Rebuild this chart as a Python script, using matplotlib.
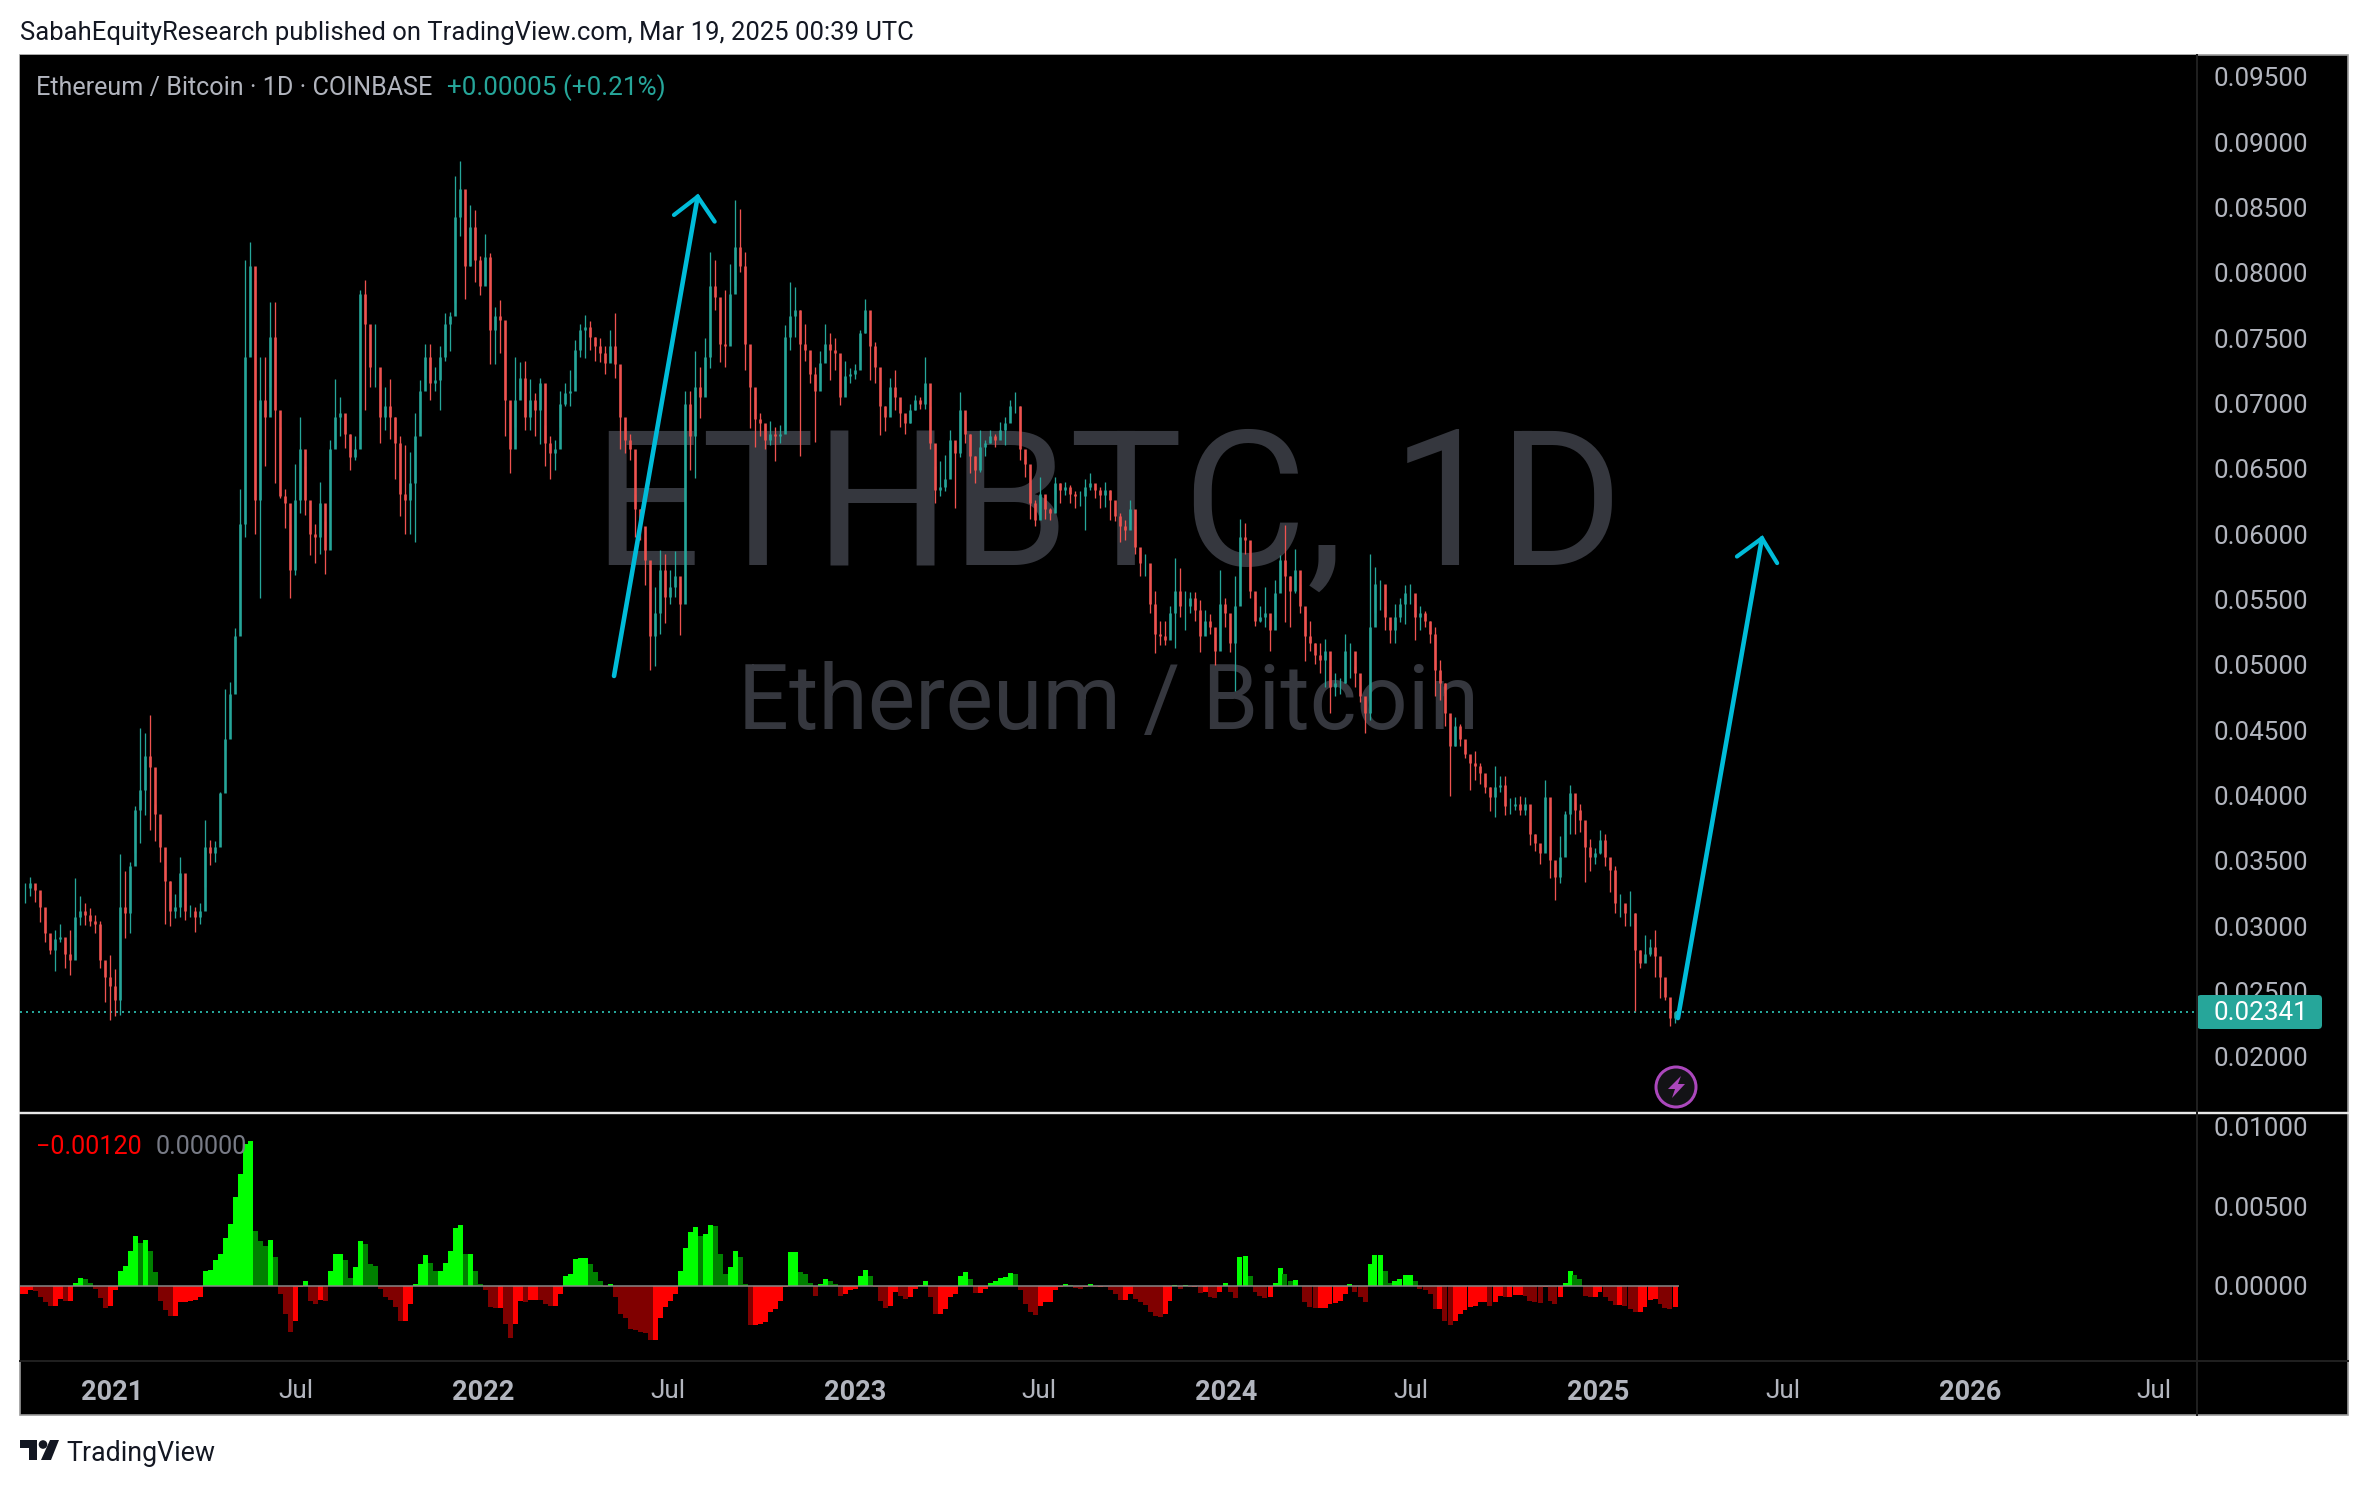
import datetime as dt
import numpy as np
import matplotlib
matplotlib.use("Agg")
import matplotlib.pyplot as plt
from matplotlib.patches import Rectangle, Circle, Polygon, FancyBboxPatch

W, H = 2368, 1486
plt.rcParams['font.family'] = ['Roboto', 'DejaVu Sans']

# ---- values (prices and momentum in units of 0.001) ----
close = [
 32.9,33.3,32.8,31.5,29.5,28.2,29.0,29.2,27.9,27.4,30.7,31.2,30.9,30.4,30.2,27.4,26.1,25.4,24.4,31.5,
 31.0,34.6,38.9,40.4,43.0,42.2,38.6,36.1,33.5,31.2,31.5,34.1,31.2,31.2,30.7,31.2,36.1,35.6,36.1,40.2,
 44.3,47.8,52.2,
 60.8,73.6,80.5,62.6,70.3,69.0,75.1,69.5,62.9,62.4,57.3,62.6,66.5,62.6,60.0,59.8,62.4,58.8,66.5,69.0,
 69.3,67.7,65.9,66.5,78.4,76.1,72.8,72.8,69.0,69.8,69.0,67.0,63.1,62.6,63.9,67.5,71.0,73.6,71.6,71.8,
 73.6,76.1,76.7,84.3,86.4,80.5,83.5,81.0,79.0,81.2,75.6,76.7,76.4,70.3,66.5,70.3,72.0,69.0,70.3,69.5,
 71.6,67.0,66.2,66.5,70.0,70.8,71.0,74.1,75.6,75.9,75.1,74.4,73.9,73.1,74.4,73.0,69.0,67.2,66.5,61.9,
 60.6,58.0,
 52.2,54.0,57.3,55.2,56.0,56.8,54.7,70.0,67.5,71.3,70.5,73.6,79.0,78.2,74.6,74.4,78.4,82.0,80.5,74.6,
 71.3,68.8,68.5,67.2,67.7,67.5,67.7,75.1,76.7,77.2,74.6,74.1,72.3,71.0,73.1,74.6,74.1,73.9,70.5,72.1,
 72.3,72.6,75.4,77.2,74.4,72.8,69.8,69.0,71.3,70.5,69.3,68.5,69.5,70.3,70.0,71.6,67.0,63.4,63.6,64.2,
 67.2,66.2,69.5,67.7,66.0,64.9,66.7,67.0,67.5,67.2,68.0,68.5,69.8,69.8,66.5,65.4,62.4,61.1,63.1,61.9,
 61.6,63.9,63.4,63.6,63.1,62.9,62.9,63.6,63.9,63.4,63.0,
 63.4,62.6,61.4,60.6,60.3,61.9,59.0,57.8,57.8,54.7,52.4,52.2,51.9,54.0,55.7,54.5,54.5,55.1,54.2,52.2,
 53.4,52.9,51.1,54.7,54.0,51.7,54.5,59.8,59.6,55.7,53.4,53.7,54.0,52.7,55.5,58.0,56.8,55.7,57.3,54.5,
 52.2,51.7,50.8,50.4,51.1,48.3,48.6,48.6,51.1,51.1,49.4,47.6,46.3,52.9,56.2,56.2,53.7,52.7,53.7,54.7,
 55.5,55.5,53.7,54.0,53.4,52.4,49.6,48.6,46.3,43.8,45.3,44.3,43.2,42.5,42.3,41.7,40.7,
 39.9,40.7,40.8,39.2,39.2,39.4,38.9,39.4,37.1,36.4,35.6,39.9,35.1,33.8,35.3,38.6,40.2,38.9,38.1,36.1,
 35.3,35.6,36.6,35.3,34.3,31.8,31.8,31.0,31.0,28.2,27.2,27.9,28.4,27.7,26.1,24.6,23.0,23.41]
high = [
 33.3,33.75,33.0,32.3,30.4,29.0,29.7,30.2,28.8,29.7,33.7,32.3,31.8,31.4,30.9,30.4,27.3,27.8,26.7,35.5,
 34.2,34.9,39.2,45.2,44.8,46.2,39.4,37.8,34.6,33.5,32.5,35.3,32.7,31.6,31.5,31.8,38.1,36.6,36.5,40.3,
 48.2,48.7,52.8,
 63.5,81.0,82.4,79.5,73.6,73.6,77.8,77.8,68.2,63.5,60.8,65.4,69.0,65.2,62.0,60.8,64.0,61.0,67.2,71.9,
 70.5,68.8,67.7,67.5,78.7,79.5,75.4,76.1,71.6,71.3,71.9,69.0,67.5,66.8,66.3,69.3,71.8,74.6,74.6,72.8,
 74.4,76.9,77.0,87.4,88.6,84.3,85.2,84.8,81.3,83.0,81.5,77.4,77.9,74.1,70.0,73.6,73.2,73.3,71.9,70.8,
 72.0,68.4,67.5,67.2,71.0,71.6,72.6,74.9,76.1,76.8,76.3,75.1,75.0,74.4,75.6,76.9,72.8,68.2,67.7,63.1,
 61.9,59.8,
 55.7,56.0,58.8,58.5,57.3,58.7,56.3,71.0,71.0,74.0,72.8,75.0,81.6,81.0,77.7,78.7,80.7,85.6,84.9,81.6,
 71.8,70.5,69.3,68.4,68.7,68.2,68.4,76.0,79.3,78.9,77.2,76.1,73.3,72.8,74.0,76.1,75.4,75.0,72.8,73.3,
 72.7,73.0,75.6,78.0,75.6,74.7,71.8,69.8,72.0,72.6,70.3,69.1,70.0,70.7,70.5,73.6,69.8,65.2,65.6,66.1,
 68.0,66.8,70.9,69.0,67.7,66.0,68.0,67.2,68.0,67.7,68.6,69.0,70.3,70.9,69.8,66.0,63.8,62.6,64.4,62.9,
 62.0,64.4,63.9,64.0,63.8,63.3,63.3,64.2,64.7,63.6,63.6,
 64.0,63.4,61.9,61.6,61.1,62.6,60.6,58.8,58.5,56.8,55.7,53.4,53.4,54.5,58.2,57.4,55.7,55.6,55.6,55.0,
 54.2,53.9,52.4,57.3,55.1,52.9,56.8,61.2,60.9,58.5,54.8,54.5,56.0,53.4,56.5,58.4,60.7,56.8,58.9,56.2,
 54.2,53.4,51.7,51.7,52.0,49.9,49.4,49.0,52.4,51.7,49.9,48.5,47.3,58.5,57.5,56.5,54.5,53.4,54.7,55.1,
 56.1,56.2,54.7,54.5,54.1,53.4,52.9,50.4,48.6,46.1,46.0,45.5,44.0,43.0,43.4,42.5,41.5,
 40.7,42.3,41.5,41.5,39.8,39.9,40.0,39.9,38.0,37.1,36.1,41.2,39.2,34.8,36.9,38.8,40.8,39.5,39.4,37.4,
 36.7,36.0,37.4,37.1,34.9,34.6,32.5,31.6,32.7,31.0,28.2,29.3,29.0,29.7,27.3,25.9,23.9,23.5]
low = [
 31.8,32.3,31.9,30.3,28.8,27.9,26.6,28.8,26.8,26.3,29.2,30.1,30.1,30.0,29.5,26.8,24.2,22.8,23.1,23.2,
 29.1,29.5,35.6,36.4,38.5,37.4,36.5,34.9,30.2,30.0,30.6,30.7,30.5,30.7,29.6,30.2,33.0,34.7,34.9,37.0,
 43.5,46.6,48.7,
 52.7,59.8,74.1,60.0,55.1,65.2,71.3,63.9,62.8,60.5,55.1,56.9,61.6,61.5,58.4,57.8,58.5,57.0,62.6,66.7,
 67.5,66.6,64.9,65.7,69.5,69.5,71.3,71.3,67.0,68.0,67.3,64.2,61.4,60.0,60.0,59.4,69.3,72.0,70.3,71.0,
 69.5,73.3,74.0,77.7,82.8,78.0,80.5,79.3,78.3,79.2,73.0,73.0,73.9,67.5,64.7,68.2,71.0,68.0,68.0,67.5,
 66.9,65.2,64.2,64.9,68.2,69.8,69.8,72.0,73.6,73.5,74.1,73.3,73.2,72.3,73.2,72.0,66.5,66.2,65.7,59.8,
 59.6,56.1,
 49.6,49.9,52.4,53.2,54.7,55.2,52.3,58.0,64.9,64.3,68.9,71.0,72.7,77.2,73.2,72.8,76.4,79.0,80.1,72.6,
 68.1,66.7,67.5,66.5,66.8,65.6,67.0,68.1,74.1,75.1,66.0,73.3,71.6,67.1,71.6,73.3,71.8,72.6,69.9,71.2,
 71.6,71.9,73.3,75.4,71.8,71.6,67.6,67.9,70.0,69.5,68.2,67.7,68.5,69.5,69.6,69.6,66.5,62.4,62.9,63.3,
 64.9,62.0,65.9,67.0,64.7,63.9,64.8,66.0,67.0,66.7,67.5,66.8,69.1,69.3,65.7,64.4,61.2,60.6,62.0,61.2,
 61.1,63.1,62.4,63.0,62.4,62.0,62.2,60.3,63.4,62.8,62.0,
 62.1,61.1,61.0,59.4,59.6,60.8,58.5,56.8,56.8,54.0,50.9,51.5,51.5,52.4,51.3,53.7,52.7,54.0,53.4,51.0,
 52.7,52.4,50.0,52.2,52.9,51.0,48.0,55.7,58.5,55.1,53.0,53.3,52.9,51.1,53.7,56.5,53.3,52.9,55.5,54.0,
 50.3,51.1,50.1,49.4,48.3,46.3,47.6,47.8,48.6,49.0,48.3,47.2,44.8,45.8,54.0,54.2,52.7,51.7,51.7,53.3,
 53.1,54.7,51.9,52.7,52.9,51.7,47.6,47.3,45.3,40.0,43.8,43.8,42.9,40.4,41.2,40.9,40.2,
 38.8,38.4,40.3,38.5,38.6,38.9,38.5,38.5,36.2,35.8,34.8,35.8,33.7,32.0,33.3,36.6,37.1,37.1,37.2,33.4,
 34.2,34.8,35.5,34.6,32.6,31.0,30.7,30.0,30.0,23.5,26.8,27.4,27.7,26.1,24.5,24.4,22.4,22.6]
momentum = [
 -.5,-.5,-.3,-.36,-.7,-1.05,-1.3,-1.3,-.85,-.95,-.95,.2,.5,.4,.15,-.2,-.75,-1.4,-1.25,-.3,
 .9,1.25,2.2,3.1,2.7,2.9,2.2,.85,-.95,-1.5,-1.9,-1.9,-1.05,-1.0,-.95,-.88,-.73,.95,1.0,1.6,
 2.0,3.0,3.9,5.55,7.0,8.9,9.1,3.45,2.8,2.5,2.9,1.8,-.5,-1.8,-2.9,-2.2,-.1,.3,-.95,-1.15,
 -.88,-.95,.95,2.0,2.0,1.6,.5,1.15,2.8,2.6,1.35,1.25,-.2,-.7,-.88,-1.35,-2.2,-2.2,-1.15,.1,
 1.35,1.9,1.45,.95,.95,1.45,2.2,3.65,3.8,2.0,2.0,.95,.1,-.3,-1.35,-1.4,-1.4,-2.4,-3.3,-2.4,
 -.95,-1.0,-.9,-.88,-.9,-1.15,-1.3,-1.3,-.5,.63,.73,1.7,1.74,1.74,1.36,.84,.3,-.06,.1,-.7,
 -1.8,-2.0,-2.7,-2.8,-2.9,-3.0,-3.4,-3.4,-2.0,-1.36,-.95,-.5,.95,2.4,3.35,3.67,3.14,3.25,3.8,3.77,
 2.0,.73,1.15,2.2,1.8,.1,-2.5,-2.5,-2.4,-2.3,-1.68,-1.47,-.95,-.1,2.1,2.1,.84,.73,.2,-.63,
 .1,.42,.3,.1,-.63,-.5,-.3,-.2,.63,1.0,.63,-.1,-.95,-1.4,-1.26,-.4,
 -.63,-.84,-.73,-.2,.06,.3,-.73,-1.8,-1.8,-1.47,-.73,-.5,.63,.84,.42,-.48,-.48,-.2,.15,.3,
 .48,.52,.78,.73,-.3,-1.15,-1.68,-1.82,-1.26,-1.05,-1.0,-.3,-.06,.1,.02,-.15,-.2,-.1,.1,-.06,
 -.06,-.1,-.27,-.5,-.88,-.88,-.5,-.84,-1.05,-1.2,-1.68,-1.88,-1.95,-1.8,-.95,.06,-.2,.04,-.1,-.1,
 -.46,-.42,-.73,-.78,-.42,.15,-.42,-.78,1.82,1.87,.63,-.42,-.67,-.78,-.73,.2,1.1,.73,.3,.36,
 0,-1.05,-1.36,-1.4,-1.4,-1.4,-1.15,-1.1,-.95,-.5,.1,-.42,-.73,-1.0,1.36,1.95,1.95,.94,.2,.3,
 .42,.69,.69,.3,-.2,-.3,-.5,-1.47,-1.47,-2.2,-2.5,-2.2,-1.8,-1.53,-1.36,-1.26,-1.05,-1.05,-1.3,-1.05,
 -.63,-.73,-.7,-.57,-.57,-.63,-.95,-1.05,-1.1,-.06,-.95,-1.15,-.73,.2,.9,.69,.42,-.63,-.73,-.73,
 -.42,-.73,-.95,-1.2,-1.2,-1.3,-1.47,-1.68,-1.68,-1.36,-.9,-.84,-1.15,-1.4,-1.47,-1.36]
price_ticks = [0.020,0.025,0.030,0.035,0.040,0.045,0.050,0.055,0.060,0.065,0.070,0.075,0.080,0.085,0.090,0.095]
osc_ticks = [0.0, 0.005, 0.01]
time_labels = ['2021','Jul','2022','Jul','2023','Jul','2024','Jul','2025','Jul','2026','Jul']
time_dates = [dt.date(2021,1,1),dt.date(2021,7,1),dt.date(2022,1,1),dt.date(2022,7,1),dt.date(2023,1,1),
              dt.date(2023,7,1),dt.date(2024,1,1),dt.date(2024,7,1),dt.date(2025,1,1),dt.date(2025,7,1),
              dt.date(2026,1,1),dt.date(2026,7,1)]
last_price = 0.02341
# drawn arrows: (day since 2021-01-01, price) for start, tip, head-left, head-right
arrow_up_2022 = [(493.4,0.04916),(575.6,0.08584),(552.3,0.08444),(592.3,0.08393)]
arrow_up_2025 = [(1539.0,0.02298),(1621.6,0.0597),(1597.0,0.0583),(1636.5,0.0578)]

# ---- layout ----
UP, DOWN = '#26a69a', '#ef5350'
GREY = '#b2b5be'
PX = 72/100
SCALE_X = 1.0175            # pixels per day
STEP = 5/SCALE_X            # days between the readings
X0 = 112                    # pixel of 2021-01-01
L, R, T, SEP, B, EDGE, BOT = 20, 2197, 55, 1112, 1360, 2348, 1415

def day(px):
    return (px-X0)/SCALE_X

fig = plt.figure(figsize=(W/100, H/100), dpi=100, facecolor='white')
fig.add_artist(Rectangle((L/W, 1-BOT/H), (EDGE-L)/W, (BOT-T)/H, transform=fig.transFigure,
                         facecolor='black', edgecolor='#9a9a9a', lw=1.2, zorder=-1))
ax = fig.add_axes([L/W, 1-SEP/H, (R-L)/W, (SEP-T)/H], facecolor='black')
ax2 = fig.add_axes([L/W, 1-B/H, (R-L)/W, (B-SEP-2)/H], facecolor='black')
for a in (ax, ax2):
    a.set_xlim(day(L), day(R))
    for s in a.spines.values():
        s.set_visible(False)
    a.yaxis.tick_right()
ax.set_ylim(0.02+(1057-SEP)/13067, 0.02+(1057-T)/13067)
ax2.set_ylim((1285.7-B)/15900, (1285.7-SEP-2)/15900)

# watermark
ax.text(day(1108), 0.02+(1057-513)/13067, 'ETHBTC, 1D', color='#35373e', fontsize=137, ha='center',
        va='center', zorder=1)
ax.text(day(1108), 0.02+(1057-704)/13067, 'Ethereum / Bitcoin', color='#35373e', fontsize=64.5, ha='center',
        va='center', zorder=1)

# candles
c = np.array(close)*1e-3
h = np.array(high)*1e-3
l = np.array(low)*1e-3
o = np.r_[c[0], c[:-1]]
xc = day(25) + STEP*np.arange(len(c))
col = np.where(c >= o, UP, DOWN)
ax.vlines(xc, l, h, colors=col, lw=1.3*PX, zorder=3)
ax.vlines(xc, np.minimum(o, c), np.maximum(o, c), colors=col, lw=2.6*PX, zorder=4)

# last price line
ax.axhline(last_price, color=UP, lw=2*PX, ls=(0, (1, 2)), dash_capstyle='butt', zorder=2)

# arrows
for pts in (arrow_up_2022, arrow_up_2025):
    start, tip, left, right = pts
    ax.plot([start[0], tip[0]], [start[1], tip[1]], color='#00bcd9', lw=4.6*PX, zorder=6, solid_capstyle='round')
    ax.plot([left[0], tip[0], right[0]], [left[1], tip[1], right[1]], color='#00bcd9', lw=4.2*PX, zorder=6,
            solid_capstyle='round', solid_joinstyle='miter')

# momentum histogram: bright while moving up, dark while moving down
m = np.array(momentum)*1e-3
xm = day(20) + STEP*np.arange(len(m))
pm = np.r_[m[0], m[:-1]]
mcol = [('#00ff00' if v >= p else '#008000') if v > 0 else ('#ff0000' if v >= p else '#800000')
        for v, p in zip(m, pm)]
ax2.bar(xm, m, width=STEP, color=mcol, linewidth=0, zorder=3)
ax2.plot([xm[0], xm[-1]+STEP/2], [0, 0], color='#8a8a8a', lw=2*PX, alpha=.75, zorder=4)

# axes ticks
ax.set_xticks([])
ax.set_yticks(price_ticks)
ax.set_yticklabels([f'{v:.5f}' for v in price_ticks])
ax2.set_yticks(osc_ticks)
ax2.set_yticklabels([f'{v:.5f}' for v in osc_ticks])
for a in (ax, ax2):
    a.tick_params(axis='y', length=0, pad=12, labelsize=18.7, labelcolor=GREY)
xt = [(d-dt.date(2021,1,1)).days for d in time_dates]
ax2.set_xticks(xt)
ax2.set_xticklabels(time_labels)
ax2.tick_params(axis='x', length=0, pad=14, labelsize=18.7, labelcolor=GREY)
for t, s in zip(ax2.get_xticklabels(), time_labels):
    if s != 'Jul':
        t.set_fontweight('bold')
        t.set_fontsize(19.5)

# overlay in pixels
ov = fig.add_axes([0, 0, 1, 1], zorder=10, facecolor='none')
ov.set_xlim(0, W); ov.set_ylim(H, 0); ov.axis('off')
ov.plot([L, EDGE], [SEP+.5, SEP+.5], color='#e8e8e8', lw=2.4*PX)
ov.plot([L, EDGE], [B+.5, B+.5], color='#1f1f1f', lw=2*PX)
ov.plot([R, R], [T, BOT], color='#1f1f1f', lw=2*PX)
ov.add_patch(FancyBboxPatch((R+2, 997), 121, 30, boxstyle='round,pad=2,rounding_size=4', fc=UP, ec='none'))
ov.text(2261, 1013, f'{last_price:.5f}', color='white', fontsize=18.7, ha='center', va='center')
ov.text(20, 33, 'SabahEquityResearch published on TradingView.com, Mar 19, 2025 00:39 UTC',
        color='#131722', fontsize=18.45, va='center')
ov.text(36, 87.5, 'Ethereum / Bitcoin · 1D · COINBASE', color=GREY, fontsize=18.1, va='center')
ov.text(447, 87.5, '+0.00005 (+0.21%)', color=UP, fontsize=18.7, va='center')
ov.text(36, 1147, '\u22120.00120', color='#ff0000', fontsize=18.1, va='center')
ov.text(156, 1147, '0.00000', color='#787b86', fontsize=18.1, va='center')
# lightning mark
ov.add_patch(Circle((1676, 1087), 20, fc='#131316', ec='#ab47bc', lw=3*PX))
ov.add_patch(Polygon([(1681,1076),(1668,1089),(1675,1089),(1672,1098),(1685,1084),(1678,1084)], fc='#ab47bc', ec='none'))
# TradingView logo
ov.add_patch(Polygon([(20,1440),(37,1440),(37,1460),(29,1460),(29,1448),(20,1448)], fc='#131722', ec='none'))
ov.add_patch(Circle((43,1444.5), 4.3, fc='#131722', ec='none'))
ov.add_patch(Polygon([(50,1440),(59,1440),(51,1460),(41,1460)], fc='#131722', ec='none'))
ov.text(66, 1453.5, 'TradingView', color='#131722', fontsize=19.3, va='center')

fig.savefig('out.png', dpi=100, facecolor='white')
